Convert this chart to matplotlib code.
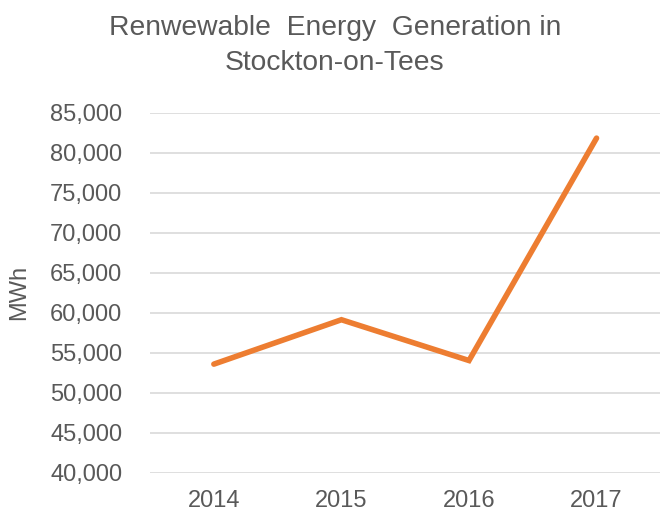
import matplotlib.pyplot as plt
from matplotlib.ticker import FuncFormatter

years = ["2014", "2015", "2016", "2017"]
generation_mwh = [53600, 59150, 54050, 81850]

grey = "#595959"
plt.rcParams['font.family'] = ['Liberation Sans', 'DejaVu Sans']

fig = plt.figure(figsize=(6.67, 5.18), dpi=100)
ax = fig.add_axes([0.225, 0.087, 0.765, 0.695])

x = list(range(len(years)))
ax.plot(x, generation_mwh, color="#ED7D31", linewidth=4.0, solid_capstyle="round",
        solid_joinstyle="miter", zorder=3)

ax.set_xlim(-0.5, len(years) - 0.5)
ax.set_ylim(40000, 85000)
ax.set_yticks(range(40000, 85001, 5000))
ax.yaxis.set_major_formatter(FuncFormatter(lambda v, p: f"{int(v):,}"))
ax.set_xticks(x)
ax.set_xticklabels(years)

ax.grid(axis="y", color="#D9D9D9", linewidth=1.2)
ax.set_axisbelow(True)
for s in ax.spines.values():
    s.set_visible(False)
ax.tick_params(length=0, labelsize=17, colors=grey)
ax.tick_params(axis="y", pad=20)
ax.tick_params(axis="x", pad=12)

ax.set_ylabel("MWh", fontsize=17, color=grey, labelpad=14)
fig.text(0.502, 0.912, "Renwewable  Energy  Generation in\nStockton-on-Tees",
         ha="center", va="center", fontsize=20.3, color=grey, linespacing=1.45)

fig.savefig("out.png", dpi=100)
